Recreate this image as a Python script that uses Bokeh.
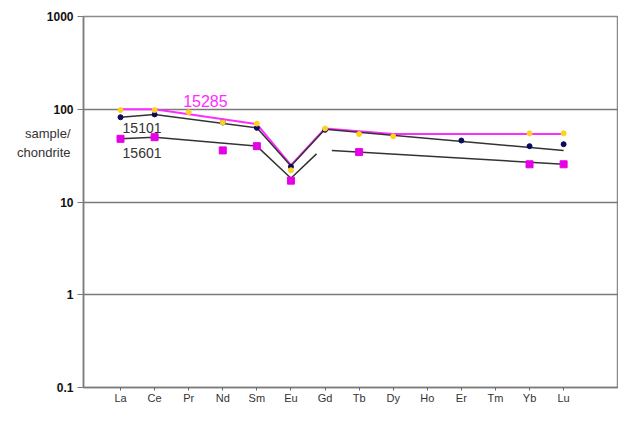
from bokeh.plotting import figure
from bokeh.models import (Range1d, FixedTicker, CustomJSTickFormatter, Label, LogAxis)
from bokeh.embed import file_html
from bokeh.resources import INLINE

# ---- data ----
elements = ["La", "Ce", "Pr", "Nd", "Sm", "Eu", "Gd", "Tb", "Dy", "Ho", "Er", "Tm", "Yb", "Lu"]
y_ticks = [0.1, 1, 10, 100, 1000]
y_title_lines = ["sample/", "chondrite"]
y_title_pos = [55.2, 34.5]

# sample 15285 (yellow points)
s15285_el = ["La", "Ce", "Pr", "Nd", "Sm", "Eu", "Gd", "Tb", "Dy", "Yb", "Lu"]
s15285_val = [98, 98, 93, 72, 70, 22, 62, 54, 51, 55, 55]
# sample 15101 (navy points)
s15101_el = ["La", "Ce", "Nd", "Sm", "Eu", "Gd", "Er", "Yb", "Lu"]
s15101_val = [82, 88, 72, 63, 24, 60, 46, 40, 42]
# sample 15601 (magenta squares)
s15601_el = ["La", "Ce", "Nd", "Sm", "Eu", "Tb", "Yb", "Lu"]
s15601_val = [48, 50, 36, 40, 17, 34.5, 25.5, 25.5]

# trend lines (positions are element index, 1 = La)
fit15285_x = [1, 2, 5, 6, 7, 9, 14]
fit15285_y = [100, 100, 69, 25, 62, 54, 54]
fit15101_x = [1, 2, 5, 6, 7, 14]
fit15101_y = [82, 88, 63, 24.5, 61, 36]
fit15601a_x = [1, 2, 5, 6, 6.75]
fit15601a_y = [48, 50, 40, 18, 33]
fit15601b_x = [7.2, 14]
fit15601b_y = [36, 25.5]

idx = {e: i + 1 for i, e in enumerate(elements)}

p = figure(width=618, height=406, output_backend="svg", toolbar_location=None,
           y_axis_type="log",
           x_range=Range1d(-0.086, 15.61), y_range=Range1d(0.1, 1000),
           min_border_left=83, min_border_right=0, min_border_top=16, min_border_bottom=18)
p.background_fill_color = "white"
p.border_fill_color = "white"
p.outline_line_color = "#8c8c8c"
p.outline_line_width = 1.5

# grid
p.xgrid.visible = False
p.ygrid.ticker = FixedTicker(ticks=y_ticks)
p.ygrid.grid_line_color = "#7a7a7a"
p.ygrid.grid_line_width = 1.5

# y axis (numbers, bold)
p.yaxis.ticker = FixedTicker(ticks=y_ticks, minor_ticks=[])
p.yaxis.formatter = CustomJSTickFormatter(code="return tick < 1 ? tick.toFixed(1) : tick.toFixed(0);")
p.yaxis.major_label_text_font = "Liberation Sans"
p.yaxis.major_label_text_font_style = "bold"
p.yaxis.major_label_text_font_size = "12px"
p.yaxis.major_label_text_color = "#111111"
p.yaxis.axis_line_color = "#7a7a7a"
p.yaxis.axis_line_width = 1.5
p.yaxis.major_tick_line_color = "#7a7a7a"
p.yaxis.major_tick_out = 6
p.yaxis.major_tick_in = 0
p.yaxis.minor_tick_line_color = None
p.yaxis.major_label_standoff = 4

# y title as a second, label-only axis
title_axis = LogAxis(
    ticker=FixedTicker(ticks=y_title_pos, minor_ticks=[]),
    major_label_overrides={v: t for v, t in zip(y_title_pos, y_title_lines)},
    axis_line_color=None, major_tick_line_color=None, minor_tick_line_color=None,
    major_tick_out=0, major_tick_in=0, major_label_standoff=-27,
    major_label_text_font="Liberation Sans", major_label_text_font_size="13px",
    major_label_text_color="#333333")
p.add_layout(title_axis, "left")

# x axis
p.xaxis.ticker = FixedTicker(ticks=list(range(1, len(elements) + 1)))
p.xaxis.major_label_overrides = {i + 1: e for i, e in enumerate(elements)}
p.xaxis.major_label_text_font = "Liberation Sans"
p.xaxis.major_label_text_font_size = "11px"
p.xaxis.major_label_text_color = "#333333"
p.xaxis.axis_line_color = "#7a7a7a"
p.xaxis.axis_line_width = 1.5
p.xaxis.major_tick_line_color = "#666666"
p.xaxis.major_tick_out = 3
p.xaxis.major_tick_in = 0
p.xaxis.minor_tick_line_color = None
p.xaxis.major_label_standoff = 1

# trend lines
p.line(fit15285_x, fit15285_y, line_color="#ff2bff", line_width=2)
p.line(fit15101_x, fit15101_y, line_color="#333333", line_width=1.5)
p.line(fit15601a_x, fit15601a_y, line_color="#333333", line_width=1.5)
p.line(fit15601b_x, fit15601b_y, line_color="#333333", line_width=1.5)

# points
p.scatter([idx[e] for e in s15601_el], s15601_val, marker="square", size=7,
          fill_color="#e600e6", line_color="#e600e6")
p.scatter([idx[e] for e in s15101_el], s15101_val, marker="circle", size=5,
          fill_color="#0a0a60", line_color="#0a0a60")
p.scatter([idx[e] for e in s15285_el], s15285_val, marker="circle", size=5,
          fill_color="#ffd21f", line_color="#ffd21f")

# labels
p.add_layout(Label(x=3.49, y=100, text="15285", text_color="#ff2bff",
                   text_font="Liberation Sans", text_font_size="16px",
                   text_align="center", text_baseline="bottom", y_offset=2))
p.add_layout(Label(x=1.06, y=62.5, text="15101", text_color="#333333",
                   text_font="Liberation Sans", text_font_size="14px",
                   text_baseline="middle"))
p.add_layout(Label(x=1.06, y=33.7, text="15601", text_color="#333333",
                   text_font="Liberation Sans", text_font_size="14px",
                   text_baseline="middle"))

open("out.html", "w").write(file_html(p, INLINE))
